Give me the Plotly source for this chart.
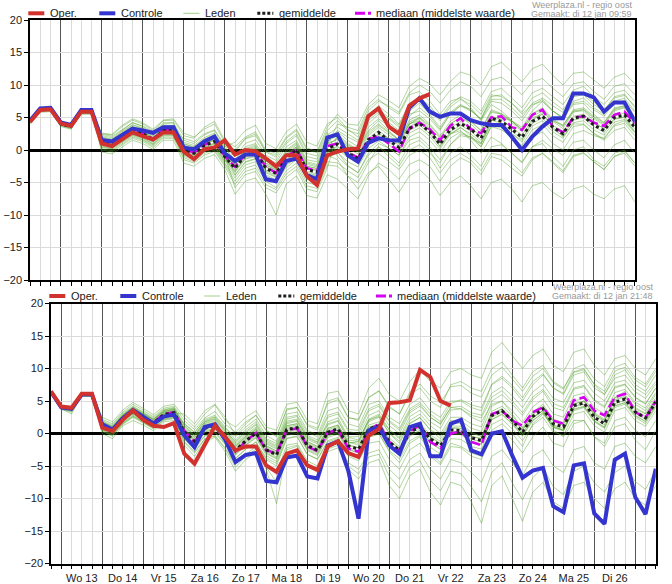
import pandas as pd
import plotly.graph_objects as go

# ---------------- data ----------------
top_times = pd.date_range("2021-01-12 06:00", periods=60, freq="6h")
bot_times = pd.date_range("2021-01-12 18:00", periods=60, freq="6h")

dutch_short_days = ["Zo", "Ma", "Di", "Wo", "Do", "Vr", "Za"]
dutch_days = ["zondag", "maandag", "dinsdag", "woensdag", "donderdag", "vrijdag", "zaterdag"]

legend_labels = ["Oper.", "Controle", "Leden", "gemiddelde", "mediaan (middelste waarde)"]
top_source = ["Weerplaza.nl - regio oost", "Gemaakt: di 12 jan 09:59"]
bot_source = ["Weerplaza.nl - regio oost", "Gemaakt: di 12 jan 21:48"]

# ---- top panel (run 12 jan 09:59) ----
top_oper = [4.3, 6.15, 6.25, 4.1, 3.7, 5.9, 5.9, 1.0, 0.6, 1.6, 2.7, 2.15, 1.6, 2.7, 2.7,
            -0.25, -1.4, 0.1, 0.4, 1.5, -0.7, 0.0, -0.2, -1.3, -2.5, -0.8, -0.8, -4.0, -5.4, -0.8,
            -0.25, 0.1, 0.25, 5.2, 6.4, 3.6, 2.5, 6.8, 7.95, 8.6]
top_control = [4.5, 6.4, 6.5, 4.25, 3.85, 6.15, 6.15, 1.55, 1.3, 2.3, 3.3, 3.0, 2.65, 3.5, 3.5,
               0.35, 0.1, 1.3, 2.05, -0.5, -1.7, -0.7, -0.7, -4.5, -4.8, -1.7, -1.3, -3.85, -4.5, 1.9,
               2.4, -0.8, -1.8, 1.1, 1.8, 1.5, 1.45, 6.5, 7.95, 5.9, 5.1, 5.6, 5.6, 4.6, 4.1,
               3.85, 3.85, 2.05, 0.0, 2.05, 3.6, 4.9, 4.9, 8.7, 8.7, 8.1, 5.9, 7.3, 7.3, 4.4]
top_mean = [4.4, 6.2, 6.3, 4.0, 3.6, 5.9, 5.9, 1.2, 0.9, 2.0, 3.0, 2.5, 1.6, 3.0, 3.0,
            0.0, -0.5, 0.7, 1.3, -1.0, -2.8, -0.8, -0.3, -2.8, -3.6, -1.2, 0.0, -3.0, -3.4, 0.2,
            0.9, -0.5, -1.3, 1.5, 2.7, 1.5, 0.4, 3.3, 4.1, 2.8, 0.9, 3.1, 4.1, 3.2, 1.8,
            4.9, 4.4, 3.2, 1.95, 4.4, 5.2, 3.5, 2.5, 4.9, 5.2, 3.85, 3.0, 5.0, 5.4, 3.5]
top_median = [4.4, 6.2, 6.3, 4.0, 3.6, 5.9, 5.9, 1.3, 1.0, 2.1, 3.1, 2.6, 1.7, 3.1, 3.1,
              0.1, -0.4, 0.8, 1.4, -0.9, -2.6, -0.7, -0.2, -2.6, -3.5, -1.1, 0.1, -2.8, -3.2, 0.6,
              1.0, -0.3, -1.2, 1.7, 2.05, 1.0, -0.25, 3.3, 4.2, 3.2, 1.5, 3.7, 4.9, 3.2, 2.6,
              5.0, 5.2, 3.5, 3.1, 5.4, 6.2, 3.6, 2.7, 5.0, 5.2, 4.2, 3.7, 5.4, 5.9, 4.1]

top_member_01 = [4.7, 6.5, 6.6, 4.3, 3.9, 6.2, 6.3, 2.5, 2.3, 3.6, 4.6, 4.0, 3.0, 4.5, 4.6,
                 2.2, 1.8, 3.5, 4.4, 1.5, 0.5, 2.0, 2.8, 0.0, -0.5, 2.0, 3.2, 0.3, -0.2, 3.5,
                 5.5, 4.0, 3.8, 7.0, 8.5, 7.6, 6.5, 9.8, 11.0, 10.2, 8.5, 10.5, 12.0, 11.5, 10.0,
                 12.8, 13.5, 12.0, 10.5, 12.5, 13.2, 11.5, 10.0, 11.8, 12.0, 10.8, 9.5, 11.2, 11.8, 10.2]
top_member_02 = [4.6, 6.4, 6.4, 4.2, 3.8, 6.1, 6.0, 2.2, 1.9, 3.0, 4.2, 3.6, 2.5, 4.0, 4.2,
                 1.5, 1.0, 2.3, 3.0, 0.5, 1.2, 3.0, 3.8, 1.0, 0.2, 2.8, 4.0, 1.2, 0.6, 4.0,
                 5.0, 3.2, 2.0, 5.5, 6.8, 5.5, 4.0, 7.2, 8.0, 6.8, 4.8, 7.0, 8.2, 7.5, 6.0,
                 9.0, 9.5, 8.0, 6.5, 8.8, 9.5, 8.2, 7.0, 9.2, 9.8, 8.2, 7.0, 8.8, 9.2, 7.5]
top_member_03 = [4.5, 6.3, 6.4, 4.1, 3.7, 6.0, 5.9, 1.6, 1.4, 2.6, 3.6, 3.1, 2.2, 3.5, 3.6,
                 0.9, 0.5, 1.7, 2.4, 0.2, -1.5, 0.5, 1.0, -1.2, -2.0, 0.5, 1.5, -1.5, -1.8, 1.8,
                 2.8, 1.5, 0.5, 4.0, 5.5, 4.2, 3.0, 6.0, 7.2, 5.5, 3.5, 5.8, 7.0, 6.2, 4.6,
                 7.5, 7.2, 6.0, 4.5, 6.8, 7.8, 6.0, 5.0, 7.2, 7.5, 6.2, 5.2, 7.2, 7.6, 5.8]
top_member_04 = [4.4, 6.2, 6.2, 4.0, 3.6, 5.8, 5.9, 0.9, 0.6, 1.8, 2.7, 2.2, 1.3, 2.7, 2.8,
                 0.5, 0.0, 1.2, 1.9, -0.5, -2.2, -0.3, 0.2, -2.3, -3.0, -0.7, 0.5, -2.5, -2.8, 0.8,
                 1.8, 0.5, -0.3, 2.5, 3.8, 2.6, 1.5, 4.3, 5.0, 3.8, 2.0, 4.0, 5.0, 4.3, 3.0,
                 6.0, 5.5, 4.4, 3.1, 5.5, 6.3, 4.6, 3.6, 6.0, 6.3, 5.0, 4.0, 6.2, 6.6, 4.6]
top_member_05 = [4.3, 6.1, 6.2, 3.9, 3.5, 5.8, 5.8, 1.5, 1.2, 2.3, 3.3, 2.8, 1.9, 3.3, 3.2,
                 -0.3, -0.8, 0.4, 1.0, -1.3, -3.3, -1.3, -0.8, -3.3, -4.1, -1.7, -0.5, -3.5, -3.9, -0.3,
                 0.5, -1.0, -2.0, 1.0, 2.5, 1.8, 1.0, 4.0, 4.8, 3.2, 1.0, 2.5, 3.5, 2.2, 0.5,
                 3.6, 3.5, 2.5, 1.5, 4.5, 5.8, 4.5, 3.8, 6.0, 6.0, 4.5, 3.2, 4.8, 5.0, 2.8]
top_member_06 = [4.6, 6.4, 6.5, 4.2, 3.8, 6.0, 6.1, 0.5, 0.2, 1.3, 2.3, 1.8, 0.9, 2.3, 2.3,
                 -1.0, -1.5, -0.3, 0.3, -2.0, -4.3, -2.3, -1.8, -4.3, -5.1, -2.7, -1.5, -4.5, -4.9, -1.3,
                 -0.3, -2.4, -3.5, -0.5, 1.0, 0.3, -0.8, 1.5, 2.0, 0.5, -1.5, 0.8, 2.2, 1.9, 0.9,
                 4.0, 3.8, 2.0, 0.2, 2.0, 2.8, 1.0, 0.0, 2.5, 3.0, 2.2, 1.8, 3.9, 4.5, 2.6]
top_member_07 = [4.1, 5.9, 6.0, 3.7, 3.3, 5.6, 5.6, 0.2, -0.1, 1.0, 2.0, 1.5, 0.6, 2.0, 2.0,
                 -1.5, -2.0, -0.8, -0.2, -2.5, -5.3, -3.3, -2.8, -5.3, -6.1, -3.7, -2.5, -5.5, -5.9, -2.3,
                 -2.5, -4.0, -5.0, -2.0, 0.5, -0.5, -2.0, 0.8, 1.5, 0.0, -2.8, -0.5, 0.5, -0.8, -2.5,
                 0.5, 0.8, -0.5, -1.8, 0.5, 1.5, 0.2, -0.8, 1.2, 1.5, 0.0, -1.2, 0.8, 1.5, -0.5]
top_member_08 = [4.2, 6.0, 6.1, 3.8, 3.4, 5.7, 5.7, -0.3, -0.6, 0.5, 1.5, 1.0, 0.1, 1.5, 1.5,
                 -2.0, -2.5, -1.3, -0.7, -3.0, -6.8, -4.8, -4.3, -6.8, -10.0, -5.2, -4.0, -7.0, -7.4, -3.8,
                 -4.5, -6.0, -7.5, -4.0, -2.0, -3.0, -4.5, -2.2, -1.5, -2.5, -4.8, -2.5, -1.2, -2.0, -3.8,
                 -1.0, -1.5, -2.8, -4.0, -1.5, -0.5, -2.0, -3.5, -1.0, -0.5, -1.8, -3.0, -1.0, -0.2, -2.0]
top_member_09 = [4.0, 5.8, 5.9, 3.6, 3.2, 5.5, 5.5, 2.4, 2.1, 3.2, 4.2, 3.7, 2.8, 4.2, 4.2,
                 0.3, -0.2, 1.0, 1.6, -0.7, -3.8, -1.8, -1.3, -3.8, -4.6, -2.2, -1.0, -4.0, -4.4, -0.8,
                 -1.5, -4.0, -6.0, -3.5, -2.5, -4.5, -6.5, -4.0, -3.0, -4.5, -7.0, -5.0, -4.0, -5.5, -7.5,
                 -5.0, -4.5, -6.0, -8.0, -5.5, -5.0, -6.5, -7.5, -6.0, -5.5, -6.8, -7.5, -6.0, -5.5, -8.0]
top_member_10 = [4.7, 6.5, 6.5, 4.3, 3.9, 6.2, 6.2, 1.0, 0.7, 1.8, 2.8, 2.3, 1.4, 2.8, 2.8,
                 1.8, 1.3, 2.5, 3.1, 0.8, -2.3, -0.3, 0.2, -2.3, -3.1, -0.7, 0.5, -2.5, -2.9, 0.7,
                 4.0, 3.5, 3.0, 6.5, 7.8, 6.5, 5.5, 8.5, 9.0, 7.5, 5.5, 7.5, 8.0, 6.5, 4.5,
                 7.0, 6.0, 4.5, 3.0, 5.0, 5.5, 3.5, 2.0, 4.0, 4.0, 2.5, 1.5, 3.0, 3.5, 1.5]
top_member_11 = [4.3, 6.1, 6.1, 3.9, 3.5, 5.8, 5.8, 2.0, 1.7, 2.8, 3.8, 3.3, 2.4, 3.8, 3.8,
                 -0.8, -1.3, -0.1, 0.5, -1.8, -0.3, 1.7, 2.2, -0.3, -1.1, 1.3, 2.5, -0.5, -0.9, 2.7,
                 -1.0, -2.5, -3.5, -0.8, 0.5, -1.0, -2.5, 0.0, 0.8, -0.5, -2.0, 0.8, 2.5, 2.0, 1.0,
                 4.5, 5.0, 4.5, 3.5, 6.0, 7.5, 6.0, 5.0, 7.5, 8.0, 6.5, 5.5, 7.5, 8.0, 6.0]
top_member_12 = [4.4, 6.2, 6.3, 4.0, 3.6, 5.9, 5.9, 0.0, -0.3, 0.8, 1.8, 1.3, 0.4, 1.8, 1.8,
                 0.2, -0.3, 0.9, 1.5, -0.8, -5.8, -3.8, -3.3, -5.8, -6.6, -4.2, -3.0, -6.0, -6.4, -2.8,
                 2.5, 1.0, 0.0, 3.0, 4.5, 3.0, 1.5, 4.0, 4.5, 3.0, 0.5, 2.5, 3.0, 1.5, -0.5,
                 2.0, 1.0, -0.5, -2.0, 0.5, 1.0, -1.0, -2.5, 0.0, 0.5, -1.5, -2.5, -0.5, 0.0, -2.0]
top_member_13 = [4.5, 6.3, 6.4, 4.1, 3.7, 6.0, 6.0, 1.4, 1.1, 2.4, 3.3, 2.8, 1.9, 3.3, 3.4,
                 0.4, -0.1, 1.0, 1.8, -0.5, -2.2, -0.2, 0.4, -2.0, -2.9, -0.5, 0.8, -2.2, -2.6, 1.0,
                 1.6, 0.2, -0.6, 2.2, 3.5, 2.3, 1.1, 4.0, 5.0, 3.5, 1.8, 4.0, 5.0, 4.0, 2.5,
                 5.8, 5.5, 4.2, 2.8, 5.2, 6.0, 4.4, 3.3, 5.8, 6.2, 4.8, 3.8, 6.0, 6.5, 4.5]
top_member_14 = [4.3, 6.1, 6.2, 3.9, 3.5, 5.8, 5.8, 1.0, 0.6, 1.6, 2.6, 2.1, 1.2, 2.6, 2.7,
                 -0.4, -0.9, 0.3, 0.9, -1.5, -3.4, -1.4, -1.0, -3.5, -4.2, -1.9, -0.7, -3.7, -4.0, -0.4,
                 0.2, -1.2, -2.0, 0.8, 2.0, 0.8, -0.3, 2.6, 3.4, 2.1, 0.2, 2.4, 3.4, 2.5, 1.1,
                 4.2, 3.7, 2.5, 1.2, 3.7, 4.5, 2.8, 1.8, 4.2, 4.5, 3.1, 2.3, 4.3, 4.7, 2.8]
top_member_15 = [4.4, 6.3, 6.3, 4.0, 3.6, 5.9, 6.0, 1.8, 1.5, 2.5, 3.5, 3.0, 2.0, 3.4, 3.5,
                 0.8, 0.2, 1.4, 2.1, -0.2, -1.8, 0.2, 0.8, -1.7, -2.5, 0.0, 1.2, -1.8, -2.2, 1.4,
                 2.2, 0.8, 0.0, 2.8, 4.0, 2.8, 1.6, 4.6, 5.4, 4.0, 2.2, 4.4, 5.4, 4.5, 3.0,
                 6.2, 5.6, 4.5, 3.2, 5.6, 6.5, 4.8, 3.8, 6.2, 6.5, 5.2, 4.2, 6.3, 6.8, 4.8]
top_member_16 = [4.5, 6.2, 6.3, 4.0, 3.6, 5.9, 5.8, 0.6, 0.3, 1.5, 2.4, 1.9, 1.0, 2.4, 2.4,
                 -0.7, -1.2, 0.0, 0.6, -1.7, -3.9, -1.9, -1.4, -4.0, -4.8, -2.4, -1.2, -4.2, -4.6, -1.0,
                 -0.4, -1.8, -2.6, 0.2, 1.4, 0.3, -0.8, 2.0, 2.8, 1.5, -0.4, 1.8, 2.8, 1.9, 0.5,
                 3.6, 3.1, 2.0, 0.7, 3.1, 3.9, 2.2, 1.2, 3.6, 3.9, 2.6, 1.7, 3.7, 4.1, 2.2]
top_member_17 = [4.4, 6.2, 6.3, 4.0, 3.6, 5.9, 5.9, 1.3, 1.0, 2.1, 3.1, 2.6, 1.7, 3.1, 3.1,
                 0.2, -0.3, 0.9, 1.5, -0.8, -2.5, -0.5, 0.0, -2.5, -3.3, -0.9, 0.3, -2.7, -3.1, 0.5,
                 1.2, -0.2, -1.0, 1.8, 3.0, 1.8, 0.7, 3.6, 4.4, 3.1, 1.2, 3.4, 4.4, 3.5, 2.1,
                 5.2, 4.7, 3.5, 2.3, 4.7, 5.5, 3.8, 2.8, 5.2, 5.5, 4.2, 3.3, 5.3, 5.7, 3.8]
top_member_18 = [4.3, 6.2, 6.2, 3.9, 3.6, 5.9, 5.9, 1.1, 0.8, 1.9, 2.9, 2.4, 1.5, 2.9, 2.9,
                 -0.2, -0.7, 0.5, 1.1, -1.2, -3.1, -1.1, -0.6, -3.1, -3.9, -1.5, -0.3, -3.3, -3.7, -0.1,
                 0.6, -0.8, -1.6, 1.2, 2.4, 1.2, 0.1, 3.0, 3.8, 2.5, 0.6, 2.8, 3.8, 2.9, 1.5,
                 4.6, 4.1, 2.9, 1.7, 4.1, 4.9, 3.2, 2.2, 4.6, 4.9, 3.6, 2.7, 4.7, 5.1, 3.2]
top_member_19 = [4.5, 6.3, 6.3, 4.1, 3.7, 6.0, 6.0, 1.9, 1.6, 2.9, 3.9, 3.4, 2.3, 3.7, 3.8,
                 1.2, 0.7, 1.9, 2.6, 0.3, -1.0, 1.0, 1.6, -0.8, -1.6, 1.0, 2.2, -1.0, -1.4, 2.3,
                 3.5, 2.5, 1.5, 5.0, 6.2, 5.0, 3.8, 6.8, 7.6, 6.4, 4.5, 6.6, 7.8, 7.0, 5.5,
                 8.5, 8.2, 7.2, 5.8, 8.0, 8.8, 7.4, 6.2, 8.4, 8.8, 7.4, 6.2, 8.0, 8.4, 6.8]
top_member_20 = [4.4, 6.2, 6.4, 4.1, 3.6, 5.9, 6.0, 1.5, 1.2, 2.2, 3.2, 2.7, 1.8, 3.2, 3.3,
                 0.6, 0.0, 1.3, 2.0, -0.3, -2.0, 0.0, 0.6, -2.0, -2.7, -0.2, 1.0, -2.0, -2.4, 1.2,
                 3.0, 2.0, 1.2, 4.5, 5.8, 4.8, 3.5, 5.5, 6.0, 4.8, 3.0, 5.6, 6.8, 6.0, 4.8,
                 7.8, 7.8, 6.5, 5.0, 7.2, 8.0, 6.8, 5.8, 8.2, 8.5, 7.0, 6.0, 8.2, 8.6, 6.5]
top_member_21 = [4.3, 6.1, 6.2, 3.9, 3.6, 5.9, 5.8, 2.6, 2.4, 3.8, 4.8, 4.2, 3.2, 4.6, 4.8,
                 2.6, 2.0, 3.2, 4.0, 1.2, 0.0, 1.8, 2.5, -0.2, -0.8, 1.8, 3.0, 0.0, -0.4, 3.0,
                 4.5, 3.0, 2.5, 6.0, 7.5, 6.8, 5.8, 8.8, 10.0, 9.0, 7.2, 9.2, 10.5, 9.8, 8.2,
                 10.8, 11.2, 10.0, 8.5, 10.5, 11.0, 9.5, 8.2, 10.2, 10.5, 9.0, 7.8, 9.8, 10.2, 8.5]
top_member_22 = [4.6, 6.3, 6.4, 4.1, 3.7, 6.0, 6.0, 1.2, 0.8, 2.0, 3.0, 2.4, 1.5, 3.0, 3.0,
                 1.0, 0.4, 1.6, 2.2, -0.2, -2.6, -0.6, -0.2, -2.6, -3.4, -1.0, 0.2, -2.8, -3.2, 0.4,
                 2.0, 0.6, 0.0, 3.5, 4.8, 3.8, 2.5, 5.2, 6.5, 5.2, 3.2, 5.5, 6.8, 6.2, 4.8,
                 8.2, 8.5, 7.2, 5.5, 7.0, 7.5, 6.0, 4.8, 7.0, 7.2, 5.5, 4.2, 6.5, 6.8, 5.0]
top_member_23 = [4.2, 6.0, 6.1, 3.8, 3.4, 5.7, 5.7, 0.4, 0.1, 1.2, 2.2, 1.6, 0.8, 2.2, 2.2,
                 -1.2, -1.8, -0.5, 0.0, -2.2, -4.8, -2.8, -2.3, -4.8, -5.8, -3.2, -2.0, -5.0, -5.4, -1.8,
                 -2.0, -3.2, -4.2, -1.5, -0.5, -1.8, -3.0, -0.8, 0.0, -1.2, -3.5, -1.5, -0.5, -1.5, -3.2,
                 -0.5, -0.8, -2.0, -3.5, -1.2, -0.5, -1.8, -3.2, -0.8, -0.4, -1.8, -3.0, -1.0, -0.5, -2.5]
top_members = [top_member_01, top_member_02, top_member_03, top_member_04, top_member_05,
               top_member_06, top_member_07, top_member_08, top_member_09, top_member_10,
               top_member_11, top_member_12, top_member_13, top_member_14, top_member_15,
               top_member_16, top_member_17, top_member_18, top_member_19, top_member_20,
               top_member_21, top_member_22, top_member_23]

# ---- bottom panel (run 12 jan 21:48) ----
bot_oper = [6.5, 4.15, 3.95, 6.1, 6.1, 0.9, 0.35, 2.1, 3.55, 2.1, 1.2, 1.0, 1.6,
            -3.1, -4.65, -1.7, 1.2, -0.55, -2.6, -2.0, -2.0, -4.9, -5.9, -3.1, -2.6, -4.9, -5.6,
            -2.0, -1.2, -3.0, -3.6, -0.3, 0.7, 4.7, 4.8, 5.1, 9.8, 8.7, 5.0, 4.3]
bot_control = [6.4, 4.0, 3.8, 6.0, 6.0, 1.4, 0.6, 2.3, 3.6, 2.5, 1.5, 2.6, 2.9,
               -0.3, -2.1, 1.0, 1.4, -1.0, -4.4, -3.3, -3.0, -7.3, -7.5, -3.7, -3.4, -6.6, -6.9,
               -1.85, -1.2, -5.7, -13.1, 0.45, 1.0, -1.85, -3.1, 1.0, 1.5, -3.5, -3.5, 1.5,
               2.1, -2.6, -3.2, 0.0, 0.35, -3.4, -6.8, -5.7, -5.3, -11.2, -12.1, -4.9, -4.6,
               -12.3, -13.9, -4.05, -3.1, -9.8, -12.4, -5.4]
bot_mean = [6.4, 4.0, 3.8, 6.0, 6.0, 1.2, 0.5, 2.3, 3.4, 2.5, 1.6, 2.9, 3.2,
            0.3, -1.2, 0.8, 1.3, -0.5, -2.6, -1.1, 0.05, -2.5, -3.3, 0.6, 0.9, -1.85, -2.6,
            0.2, 0.7, -1.9, -2.4, 0.7, 1.2, -1.3, -2.6, 0.2, 1.0, -0.8, -1.85, 0.55,
            0.45, -0.65, -1.1, 2.75, 3.5, 2.0, 0.2, 2.6, 3.8, 1.5, 1.0, 4.3, 4.7,
            2.5, 1.5, 4.8, 5.3, 3.3, 2.4, 4.8]
bot_median = [6.4, 4.0, 3.8, 6.0, 6.0, 1.2, 0.5, 2.4, 3.5, 2.6, 1.7, 3.0, 3.3,
              0.4, -1.3, 0.9, 1.4, -0.4, -2.8, -1.2, 0.1, -2.6, -3.0, 0.5, 0.8, -2.0, -2.7,
              0.1, 0.6, -2.3, -2.8, 0.5, 1.5, -1.3, -2.7, 0.3, 1.3, -1.3, -2.2, 0.0,
              0.3, -1.3, -1.8, 3.0, 3.5, 2.0, 1.2, 3.3, 4.0, 2.0, 1.5, 5.1, 5.6,
              3.5, 2.8, 5.6, 6.1, 3.3, 2.4, 5.0]

bot_member_01 = [6.6, 4.2, 4.0, 6.3, 6.3, 2.5, 1.8, 3.6, 4.8, 3.8, 2.9, 4.2, 4.5,
                 2.5, 1.0, 3.0, 4.4, 2.0, 1.0, 2.5, 3.5, 1.0, 0.5, 4.5, 4.8, 2.0, 1.5, 6.2, 6.5, 3.5,
                 3.0, 7.0, 8.5, 6.0, 5.0, 8.0, 9.8, 8.0, 7.0, 9.5, 10.0, 9.0, 8.5, 12.5, 14.0,
                 12.0, 10.0, 12.0, 13.0, 10.5, 9.5, 12.5, 13.0, 10.5, 9.0, 11.5, 12.0, 10.0, 9.0, 11.5]
bot_member_02 = [6.5, 4.1, 3.9, 6.1, 6.1, 2.0, 1.3, 3.1, 4.2, 3.3, 2.4, 3.7, 4.0,
                 1.5, 0.2, 2.0, 2.6, 0.8, -0.5, 1.0, 2.2, -0.3, -1.2, 3.0, 3.3, 0.5, -0.2, 3.5, 4.0, 1.5,
                 1.0, 4.5, 5.0, 2.5, 1.5, 4.5, 5.5, 3.5, 2.5, 5.0, 5.0, 4.0, 3.5, 7.5, 8.5,
                 7.0, 5.0, 7.5, 9.0, 7.0, 6.0, 9.0, 9.5, 7.0, 6.0, 9.0, 9.8, 7.5, 6.5, 9.0]
bot_member_03 = [6.4, 4.0, 3.8, 6.0, 6.0, 1.6, 0.9, 2.8, 3.9, 3.0, 2.1, 3.4, 3.7,
                 0.8, -0.6, 1.5, 2.0, 0.2, -1.8, -0.4, 0.8, -1.6, -2.4, 1.5, 1.9, -0.9, -1.6, 1.3, 1.9, -1.0,
                 -1.2, 2.0, 2.8, 0.5, -0.8, 2.0, 3.0, 1.2, 0.0, 2.5, 2.5, 1.5, 1.0, 5.0, 6.0,
                 4.5, 2.8, 5.2, 6.5, 4.0, 3.5, 6.8, 7.2, 5.0, 4.0, 7.0, 7.5, 5.5, 4.5, 7.0]
bot_member_04 = [6.3, 3.9, 3.6, 5.9, 5.9, 1.0, 0.3, 2.0, 3.1, 2.2, 1.3, 2.6, 2.9,
                 0.0, -1.6, 0.4, 0.9, -0.9, -3.0, -1.5, -0.4, -3.0, -3.8, 0.2, 0.5, -2.3, -3.0, -0.3, 0.2, -2.4,
                 -2.9, 0.3, 0.8, -1.8, -3.1, -0.3, 0.5, -1.3, -2.4, 0.0, 0.0, -1.2, -1.6, 2.2, 3.0,
                 1.5, -0.3, 2.0, 3.2, 1.0, 0.5, 3.8, 4.2, 2.0, 1.0, 4.3, 4.8, 2.8, 1.9, 4.3]
bot_member_05 = [6.2, 3.8, 3.5, 5.8, 5.8, 0.6, -0.1, 1.7, 2.8, 1.9, 1.0, 2.3, 2.6,
                 -0.6, -2.2, -0.3, 0.3, -1.6, -3.8, -2.4, -1.3, -4.0, -5.0, -0.8, -0.5, -3.2, -4.0, -1.3, -0.8, -3.5,
                 -4.2, -1.5, -1.2, -4.0, -5.5, -2.5, -1.5, -3.5, -4.8, -2.0, -2.2, -3.5, -4.0, -0.5, 0.5,
                 -1.0, -3.0, -0.5, 1.0, -1.5, -2.0, 1.5, 2.0, -0.5, -1.5, 2.0, 2.5, 0.5, -0.5, 2.0]
bot_member_06 = [6.5, 4.1, 3.9, 6.1, 6.0, 1.4, 0.7, 2.5, 3.6, 2.7, 1.8, 3.1, 3.4,
                 0.5, -1.0, 1.0, 1.5, -0.3, -2.0, -0.5, 0.6, -1.9, -2.7, 1.2, 1.5, -1.3, -2.0, 0.8, 1.3, -1.3,
                 -1.5, 1.8, 2.5, 0.0, -1.5, 1.5, 2.5, 0.5, -0.8, 1.8, 1.5, 0.2, -0.5, 3.0, 3.5,
                 1.8, 0.0, 2.5, 3.5, 1.2, 0.5, 3.5, 4.0, 1.8, 0.8, 4.0, 4.5, 2.5, 1.5, 4.0]
bot_member_07 = [6.1, 3.7, 3.3, 5.7, 5.7, 0.3, -0.4, 1.4, 2.5, 1.6, 0.7, 2.0, 2.3,
                 -1.2, -2.8, -0.8, -0.3, -2.2, -4.8, -3.2, -2.0, -4.8, -6.0, -1.8, -1.5, -4.2, -5.0, -2.0, -1.5, -4.5,
                 -5.5, -3.0, -2.5, -5.5, -7.0, -4.0, -3.0, -5.5, -7.0, -4.0, -4.5, -6.0, -7.5, -3.5, -2.5,
                 -4.5, -6.5, -3.5, -2.5, -5.0, -6.0, -2.5, -2.0, -4.5, -5.5, -2.0, -1.5, -3.5, -4.5, -2.0]
bot_member_08 = [6.3, 3.8, 3.0, 5.8, 5.8, 0.0, -0.8, 1.2, 2.0, 1.3, 0.4, 1.8, 2.0,
                 -1.8, -3.5, -1.2, -0.6, -2.8, -5.8, -4.0, -2.8, -5.5, -10.8, -2.5, -2.0, -5.0, -6.0, -2.8, -2.2, -5.5,
                 -7.0, -4.5, -4.0, -8.0, -10.0, -6.5, -5.5, -9.0, -11.0, -7.5, -8.0, -10.5, -13.8, -8.0, -6.5,
                 -10.0, -13.5, -9.0, -7.5, -10.5, -11.5, -8.0, -7.5, -10.0, -11.5, -8.5, -7.5, -10.0, -11.0, -8.0]
bot_member_09 = [6.6, 4.2, 4.1, 6.2, 6.1, 1.8, 1.1, 2.9, 4.1, 3.1, 2.2, 3.5, 3.8,
                 1.2, -0.3, 1.8, 2.3, 0.4, -1.2, 0.3, 1.5, -1.0, -1.8, 2.2, 2.6, -0.3, -1.0, 2.5, 3.0, 0.3,
                 0.0, 3.5, 4.2, 1.8, 0.5, 3.5, 4.5, 2.5, 1.5, 4.0, 3.8, 2.5, 1.8, 4.5, 5.0,
                 3.0, 0.8, 2.5, 3.5, 0.5, -0.5, 2.0, 2.0, -0.5, -2.0, 1.0, 1.5, -1.0, -2.5, 0.5]
bot_member_10 = [6.4, 4.0, 3.7, 6.0, 6.0, 1.1, 0.4, 2.2, 3.3, 2.4, 1.5, 2.8, 3.1,
                 3.0, 1.5, 3.5, 4.5, 2.5, -0.3, 1.5, 2.8, 0.5, -0.5, 3.8, 4.0, 1.2, 0.5, 5.0, 5.5, 2.5,
                 2.0, 5.5, 6.5, 4.0, 3.0, 6.0, 7.0, 5.0, 4.0, 7.5, 8.0, 7.0, 6.5, 10.0, 11.0,
                 9.0, 7.0, 9.5, 10.5, 8.0, 7.0, 9.5, 10.0, 7.5, 6.0, 8.5, 9.0, 7.0, 6.0, 8.0]
bot_member_11 = [6.3, 3.9, 3.7, 5.9, 5.9, 1.5, 0.8, 2.6, 3.7, 2.8, 1.9, 3.2, 3.5,
                 -0.2, -1.8, 0.2, 0.7, -1.2, -3.3, -1.8, -0.7, -3.4, -4.3, -0.3, 0.0, -2.6, -3.4, -0.6, -0.1, -2.8,
                 -3.5, -0.5, 0.0, -2.8, -4.5, -1.5, -0.5, -3.0, -4.5, -1.5, -2.0, -3.0, -3.5, 0.5, 1.5,
                 0.0, -2.0, 1.5, 3.0, 1.0, 0.5, 4.0, 5.0, 3.0, 2.0, 5.5, 6.5, 4.5, 3.5, 6.0]
bot_member_12 = [6.2, 3.8, 3.6, 5.9, 5.9, 0.8, 0.1, 1.9, 3.0, 2.1, 1.2, 2.5, 2.8,
                 0.3, -1.2, 0.8, 1.3, -0.5, -2.6, -1.1, 0.0, -2.5, -3.3, 0.6, 0.9, -1.9, -2.6, 0.2, 0.7, -1.9,
                 -2.2, 1.0, 1.5, -1.0, -2.3, 0.5, 1.3, -0.5, -1.5, 1.0, 0.8, -0.5, -0.8, 3.0, 3.8,
                 2.2, 0.5, 3.0, 4.2, 2.0, 1.5, 4.5, 5.0, 3.0, 2.0, 5.2, 5.8, 3.8, 3.0, 5.2]
bot_member_13 = [6.5, 4.1, 3.9, 6.1, 6.1, 1.5, 0.8, 2.7, 3.8, 2.9, 2.0, 3.3, 3.6,
                 0.8, -0.7, 1.3, 1.8, 0.0, -2.0, -0.5, 0.6, -1.9, -2.7, 1.2, 1.5, -1.2, -2.0, 0.8, 1.3, -1.3,
                 -1.8, 1.3, 1.8, -0.7, -2.0, 0.8, 1.6, -0.2, -1.2, 1.2, 1.1, 0.0, -0.4, 3.4, 4.2,
                 2.7, 0.9, 3.3, 4.5, 2.2, 1.7, 5.0, 5.4, 3.2, 2.2, 5.5, 6.0, 4.0, 3.1, 5.5]
bot_member_14 = [6.3, 3.9, 3.7, 5.9, 5.9, 0.9, 0.2, 2.0, 3.0, 2.1, 1.2, 2.5, 2.8,
                 -0.3, -1.8, 0.2, 0.7, -1.1, -3.2, -1.7, -0.6, -3.1, -3.9, 0.0, 0.3, -2.5, -3.2, -0.4, 0.1, -2.5,
                 -3.0, 0.1, 0.6, -1.9, -3.2, -0.4, 0.4, -1.4, -2.5, -0.1, -0.2, -1.3, -1.7, 2.1, 2.9,
                 1.4, -0.4, 2.0, 3.2, 0.9, 0.4, 3.7, 4.1, 1.9, 0.9, 4.2, 4.7, 2.7, 1.8, 4.2]
bot_member_15 = [6.5, 4.1, 3.8, 6.1, 6.0, 1.8, 1.1, 2.9, 4.0, 3.1, 2.2, 3.6, 3.9,
                 1.3, -0.2, 1.8, 2.5, 0.6, -1.4, 0.1, 1.3, -1.2, -2.0, 1.9, 2.2, -0.5, -1.3, 1.5, 2.0, -0.6,
                 -1.0, 2.1, 2.6, 0.1, -1.2, 1.6, 2.4, 0.6, -0.4, 2.0, 1.9, 0.8, 0.3, 4.2, 5.0,
                 3.5, 1.7, 4.1, 5.3, 3.0, 2.5, 5.8, 6.2, 4.0, 3.0, 6.3, 6.8, 4.8, 3.9, 6.3]
bot_member_16 = [6.3, 3.9, 3.7, 5.9, 5.9, 0.5, -0.2, 1.6, 2.7, 1.8, 0.9, 2.2, 2.5,
                 -0.9, -2.4, -0.4, 0.1, -1.7, -3.9, -2.4, -1.3, -3.8, -4.6, -0.7, -0.4, -3.2, -3.9, -1.1, -0.6, -3.2,
                 -3.7, -0.6, -0.1, -2.6, -3.9, -1.1, -0.3, -2.1, -3.2, -0.8, -0.9, -2.0, -2.4, 1.4, 2.2,
                 0.7, -1.1, 1.3, 2.5, 0.2, -0.3, 3.0, 3.4, 1.2, 0.2, 3.5, 4.0, 2.0, 1.1, 3.5]
bot_member_17 = [6.4, 4.0, 3.8, 6.0, 6.0, 1.3, 0.6, 2.4, 3.5, 2.6, 1.7, 3.0, 3.3,
                 0.4, -1.1, 0.9, 1.4, -0.4, -2.4, -0.9, 0.2, -2.3, -3.1, 0.8, 1.1, -1.6, -2.4, 0.4, 0.9, -1.7,
                 -2.2, 0.9, 1.4, -1.1, -2.4, 0.4, 1.2, -0.6, -1.6, 0.8, 0.7, -0.4, -0.8, 3.0, 3.8,
                 2.3, 0.5, 2.9, 4.1, 1.8, 1.3, 4.6, 5.0, 2.8, 1.8, 5.1, 5.6, 3.6, 2.7, 5.1]
bot_member_18 = [6.4, 4.0, 3.8, 6.0, 6.0, 1.1, 0.4, 2.2, 3.3, 2.4, 1.5, 2.8, 3.1,
                 0.1, -1.4, 0.6, 1.1, -0.7, -2.8, -1.3, -0.2, -2.8, -3.6, 0.4, 0.7, -2.1, -2.8, 0.0, 0.5, -2.2,
                 -2.7, 0.5, 1.0, -1.6, -2.9, 0.0, 0.8, -1.1, -2.1, 0.3, 0.2, -0.9, -1.3, 2.5, 3.3,
                 1.8, 0.0, 2.4, 3.6, 1.3, 0.8, 4.1, 4.5, 2.3, 1.3, 4.6, 5.1, 3.1, 2.2, 4.6]
bot_member_19 = [6.5, 4.1, 3.9, 6.1, 6.1, 1.7, 1.0, 2.8, 3.9, 3.0, 2.1, 3.4, 3.7,
                 1.0, -0.4, 1.6, 2.2, 0.4, -1.6, -0.2, 1.0, -1.4, -2.2, 1.7, 2.0, -0.7, -1.4, 1.8, 2.4, -0.5,
                 -0.5, 2.8, 3.5, 1.2, 0.0, 3.2, 4.2, 2.5, 1.4, 4.0, 4.2, 3.2, 2.8, 6.2, 7.2,
                 5.8, 4.0, 6.4, 7.6, 5.4, 4.8, 7.8, 8.2, 6.2, 5.0, 7.8, 8.2, 6.4, 5.4, 7.6]
bot_member_20 = [6.4, 4.1, 3.8, 6.0, 6.1, 1.0, 0.3, 2.1, 3.2, 2.3, 1.4, 2.7, 3.0,
                 1.6, 0.1, 2.2, 2.8, 1.0, -1.0, 0.6, 1.8, -0.8, -1.5, 2.5, 2.8, 0.2, -0.5, 2.8, 3.3, 0.6,
                 0.5, 3.8, 4.5, 2.0, 0.8, 3.8, 4.8, 3.0, 1.8, 4.6, 5.2, 4.4, 4.0, 7.6, 8.8,
                 7.4, 5.5, 8.0, 9.2, 7.0, 6.2, 9.4, 9.8, 7.6, 6.5, 9.6, 10.2, 8.2, 7.2, 9.6]
bot_member_21 = [6.5, 4.0, 3.9, 6.0, 6.0, 2.2, 1.5, 3.3, 4.5, 3.5, 2.6, 3.9, 4.2,
                 2.0, 0.6, 2.4, 3.4, 1.4, 0.2, 1.8, 2.8, 0.4, -0.3, 3.6, 4.0, 1.4, 0.8, 4.6, 5.2, 2.4,
                 2.2, 5.6, 6.6, 4.2, 3.0, 6.4, 7.6, 5.8, 4.8, 7.2, 7.4, 6.2, 5.6, 9.0, 10.2,
                 8.4, 6.5, 8.8, 10.0, 7.8, 6.8, 10.0, 10.6, 8.4, 7.2, 10.2, 10.8, 8.6, 7.6, 10.0]
bot_member_22 = [6.3, 3.9, 3.8, 5.9, 6.0, 1.3, 0.6, 2.4, 3.5, 2.6, 1.7, 3.0, 3.3,
                 0.6, -0.9, 1.1, 1.6, -0.2, -2.2, -0.7, 0.4, -2.1, -2.9, 1.0, 1.3, -1.5, -2.2, 0.6, 1.1, -1.5,
                 -1.2, 2.2, 3.0, 0.6, -0.6, 2.6, 3.6, 1.8, 0.8, 3.6, 3.8, 2.8, 2.4, 5.6, 6.6,
                 5.0, 3.2, 5.6, 6.8, 4.6, 4.0, 7.0, 7.4, 5.2, 4.2, 7.2, 7.6, 5.6, 4.6, 7.0]
bot_member_23 = [6.2, 3.8, 3.4, 5.8, 5.8, 0.4, -0.3, 1.5, 2.6, 1.7, 0.8, 2.1, 2.4,
                 -1.4, -3.0, -0.9, -0.4, -2.4, -5.2, -3.5, -2.4, -5.2, -7.5, -2.2, -1.8, -4.6, -5.5, -2.4, -1.8, -5.0,
                 -6.2, -3.6, -3.2, -6.6, -8.4, -5.2, -4.2, -7.2, -8.8, -5.8, -6.2, -8.2, -10.5, -6.0, -4.5,
                 -7.6, -10.2, -6.8, -5.2, -8.2, -9.4, -5.8, -5.0, -7.6, -9.0, -6.0, -5.0, -7.4, -8.6, -5.6]
bot_members = [bot_member_01, bot_member_02, bot_member_03, bot_member_04, bot_member_05,
               bot_member_06, bot_member_07, bot_member_08, bot_member_09, bot_member_10,
               bot_member_11, bot_member_12, bot_member_13, bot_member_14, bot_member_15,
               bot_member_16, bot_member_17, bot_member_18, bot_member_19, bot_member_20,
               bot_member_21, bot_member_22, bot_member_23]

for s in top_members + bot_members + [top_control, top_mean, top_median,
                                      bot_control, bot_mean, bot_median]:
    assert len(s) == 60, len(s)

# ---------------- styling ----------------
W, H = 672, 584
FONT = "Liberation Sans, Arial, sans-serif"
RED = "#d2322d"
BLUE = "#3434cf"
MAGENTA = "#d800f0"
MEAN_C = "#1e1e1e"
MEMBER_C = "rgba(85,165,45,0.45)"
LEGEND_GREEN = "#9fd08a"
GRID_LIGHT = "#dadada"
GRID_DARK = "#555555"


def px(x):
    return x / W


def py(y):
    return 1 - y / H


fig = go.Figure()

panels = [
    dict(t=top_times, oper=top_oper, ctrl=top_control, mean=top_mean, med=top_median,
         members=top_members, xa="x", ya="y"),
    dict(t=bot_times, oper=bot_oper, ctrl=bot_control, mean=bot_mean, med=bot_median,
         members=bot_members, xa="x2", ya="y2"),
]

for p in panels:
    for m in p["members"]:
        fig.add_trace(go.Scatter(x=p["t"], y=m, mode="lines", name=legend_labels[2],
                                 line=dict(color=MEMBER_C, width=1),
                                 xaxis=p["xa"], yaxis=p["ya"], showlegend=False, hoverinfo="skip"))
    fig.add_trace(go.Scatter(x=p["t"], y=p["med"], mode="lines", name=legend_labels[4],
                             line=dict(color=MAGENTA, width=2.5, dash="10px,4px"),
                             xaxis=p["xa"], yaxis=p["ya"], showlegend=False))
    fig.add_trace(go.Scatter(x=p["t"], y=p["mean"], mode="lines", name=legend_labels[3],
                             line=dict(color=MEAN_C, width=3, dash="3px,3px"),
                             xaxis=p["xa"], yaxis=p["ya"], showlegend=False))
    fig.add_trace(go.Scatter(x=p["t"], y=p["ctrl"], mode="lines", name=legend_labels[1],
                             line=dict(color=BLUE, width=4),
                             xaxis=p["xa"], yaxis=p["ya"], showlegend=False))
    fig.add_trace(go.Scatter(x=p["t"][:len(p["oper"])], y=p["oper"], mode="lines",
                             name=legend_labels[0], line=dict(color=RED, width=4),
                             xaxis=p["xa"], yaxis=p["ya"], showlegend=False))


def xaxis_cfg(domain, rng, anchor, labels):
    return dict(
        domain=domain, anchor=anchor, type="date", range=rng, automargin=False,
        tick0="2021-01-13", dtick=86400000,
        ticklabelmode="period", tickformat="%a %d",
        showgrid=True, gridcolor=GRID_DARK, gridwidth=1,
        ticks="outside", ticklen=4, tickcolor="#000", showticklabels=labels,
        tickfont=dict(size=11, color="#222", family=FONT),
        showline=True, linecolor="#000", linewidth=1.5, mirror=True, zeroline=False,
        minor=dict(tick0="2021-01-13", dtick=21600000, showgrid=True, gridcolor=GRID_LIGHT,
                   gridwidth=1, ticks="outside", ticklen=4, tickcolor="#000"),
    )


def yaxis_cfg(domain, anchor):
    return dict(
        domain=domain, anchor=anchor, range=[-20, 20], tick0=0, dtick=5, automargin=False,
        showgrid=True, gridcolor=GRID_LIGHT, gridwidth=1,
        ticks="outside", ticklen=4, tickcolor="#000",
        tickfont=dict(size=11, color="#222", family=FONT),
        zeroline=True, zerolinecolor="#000", zerolinewidth=2.5,
        showline=True, linecolor="#000", linewidth=1.5, mirror=True,
    )


top_dom_x = [px(30), px(634.75)]
bot_dom_x = [px(51), px(655.75)]
edge = pd.Timedelta(minutes=1)
top_rng = [top_times[0], top_times[-1] - edge]
bot_rng = [bot_times[0], bot_times[-1] - edge]

fig.update_layout(
    template="none",
    width=W, height=H, autosize=False,
    margin=dict(l=0, r=0, t=0, b=0, pad=0),
    paper_bgcolor="white", plot_bgcolor="white",
    showlegend=False,
    font=dict(family=FONT, size=11, color="#222"),
    xaxis=xaxis_cfg(top_dom_x, top_rng, "y", False),
    yaxis=yaxis_cfg([py(280), py(20)], "x"),
    xaxis2=xaxis_cfg(bot_dom_x, bot_rng, "y2", True),
    yaxis2=yaxis_cfg([py(563.5), py(303.5)], "x2"),
)

# ---------------- legends (drawn per panel) ----------------
legend_styles = [
    dict(color=RED, width=4, dash="solid"),
    dict(color=BLUE, width=4, dash="solid"),
    dict(color=LEGEND_GREEN, width=1, dash="solid"),
    dict(color=MEAN_C, width=3, dash="3px,2px"),
    dict(color=MAGENTA, width=3, dash="10px,3px"),
]
legend_x = [(28.3, 44.3, 47.5), (99.3, 115.3, 118.5), (183.3, 199.3, 202.5),
            (257.3, 273.3, 276.5), (355.0, 371.0, 374.0)]
shapes, annotations = [], []
for shift, yc in [(0, 13.3), (21, 296.0)]:
    for (x0, x1, xt), style, label in zip(legend_x, legend_styles, legend_labels):
        shapes.append(dict(type="line", xref="paper", yref="paper",
                           x0=px(x0 + shift), x1=px(x1 + shift), y0=py(yc), y1=py(yc),
                           line=style))
        annotations.append(dict(xref="paper", yref="paper", x=px(xt + shift), y=py(yc),
                                text=label, showarrow=False, xanchor="left", yanchor="middle",
                                font=dict(size=11, color="#222", family=FONT)))

for right, (y1, y2), texts in [(633.5, (4.5, 13.8), top_source),
                               (654.5, (287.0, 296.3), bot_source)]:
    for yy, txt in zip((y1, y2), texts):
        annotations.append(dict(xref="paper", yref="paper", x=px(right), y=py(yy), text=txt,
                                showarrow=False, xanchor="right", yanchor="middle",
                                font=dict(size=9, color="#999", family=FONT)))

fig.update_layout(shapes=shapes, annotations=annotations)

config = dict(
    displayModeBar=False,
    locale="nl",
    locales={"nl": {"format": {"days": dutch_days, "shortDays": dutch_short_days}}},
)
fig.write_html("out.html", config=config,
               post_script="document.body.style.margin='0';document.body.style.overflow='hidden';")
